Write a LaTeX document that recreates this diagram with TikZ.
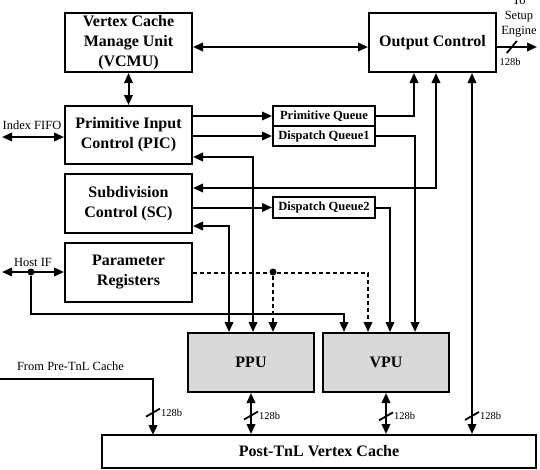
\documentclass[tikz,border=0pt]{standalone}
\usepackage{fontspec}
\setmainfont{Liberation Serif}
\usetikzlibrary{arrows.meta}
\definecolor{unitgray}{RGB}{217,217,217}
\tikzset{
  box/.style={draw, line width=2pt, font=\bfseries\fontsize{16}{20}\selectfont, align=center, inner sep=0pt},
  queue/.style={draw, line width=2pt, font=\bfseries\fontsize{12.5}{14}\selectfont, minimum width=102pt, minimum height=20pt, inner sep=0pt},
  unit/.style={box, fill=unitgray, minimum width=126pt, minimum height=59pt},
  lbl/.style={font=\fontsize{12.5}{15}\selectfont, inner sep=0pt, align=center},
  bw/.style={font=\fontsize{10.5}{12}\selectfont, inner sep=0pt},
  arr/.style={line width=2pt, -{Triangle[length=10pt,width=8.5pt]}},
  dbl/.style={line width=2pt, {Triangle[length=10pt,width=8.5pt]}-{Triangle[length=10pt,width=8.5pt]}},
  dsh/.style={arr, dash pattern=on 4pt off 3pt},
  slashmark/.style={line width=1.8pt},
  dot/.style={circle, fill, inner sep=0pt, minimum size=7pt}
}
\begin{document}
\begin{tikzpicture}[x=1pt,y=-1pt]
\useasboundingbox (0,0) rectangle (540,469);
% main blocks
\node[box, minimum width=127pt, minimum height=59pt] (vcmu) at (128.5,42.5) {Vertex Cache\\Manage Unit\\(VCMU)};
\node[box, minimum width=127pt, minimum height=58pt] (pic) at (128.5,135) {Primitive Input\\Control (PIC)};
\node[box, minimum width=127pt, minimum height=59pt] (sc) at (128.5,203.5) {Subdivision\\Control (SC)};
\node[box, minimum width=127pt, minimum height=59pt] (par) at (128.5,272.5) {Parameter\\Registers};
\node[box, minimum width=127pt, minimum height=59pt] (oc) at (432.5,42.5) {Output Control};
\node[queue] (pq) at (324,116) {Primitive Queue};
\node[queue] (dq1) at (324,136) {Dispatch Queue1};
\node[queue, minimum height=21pt] (dq2) at (324,207.5) {Dispatch Queue2};
\node[unit] (ppu) at (251,362.5) {PPU};
\node[unit] (vpu) at (386,362.5) {VPU};
\node[box, minimum width=434pt, minimum height=33pt] (post) at (319,451.5) {Post-TnL Vertex Cache};

% helper coordinates
\coordinate (ififo) at (2,137);
\coordinate (hif) at (2,272);
\coordinate (pre) at (0,379);
\coordinate (setup) at (537,47);
\node[dot] (hdot) at (31,272) {};
\coordinate (hturn) at (31,314);
\node[dot] (pdot) at (273,272) {};
\coordinate (ocA) at ([xshift=-18.5pt]oc.south);
\coordinate (ocB) at ([xshift=3.5pt]oc.south);
\coordinate (ocC) at ([xshift=39.5pt]oc.south);
\coordinate (vA) at ([xshift=29pt]vpu.north);
\coordinate (vB) at ([xshift=4pt]vpu.north);
\coordinate (vC) at ([xshift=-18pt]vpu.north);
\coordinate (vD) at ([xshift=-42pt]vpu.north);
\coordinate (pA) at ([xshift=2pt]ppu.north);
\coordinate (pB) at ([xshift=-22pt]ppu.north);
\coordinate (preIn) at (153,435);

% connectors
\draw[dbl] (vcmu.south) -- (pic.north);
\draw[dbl] ([yshift=-4.5pt]vcmu.east) -- ([yshift=-4.5pt]oc.west);
\draw[dbl] (ififo) -- (ififo -| pic.west);
\node[lbl] at (32,125) {Index FIFO};
\draw[arr] (pic.east |- pq.west) -- (pq.west);
\draw[arr] (pic.east |- dq1.west) -- (dq1.west);
\draw[arr] (pq.east) -| (ocA);
\draw[dbl] ([yshift=15.5pt]sc.east) -| (ocB);
\draw[dbl] (ocC) -- coordinate[pos=0.95] (s5) (ocC |- post.north);
\draw[arr] (dq1.east) -| (vA);
\draw[arr] (sc.east |- dq2.west) -- (dq2.west);
\draw[arr] (dq2.east) -| (vB);
\draw[dbl] ([yshift=-22pt]pic.east) -| (pA);
\draw[dbl] ([yshift=-22.5pt]sc.east) -| (pB);
\draw[dsh] (par.east) -| (vC);
\draw[dsh] (pdot) -- (pdot |- ppu.north);
\draw[dbl] (hif) -- (hif -| par.west);
\node[lbl] at (33,262) {Host IF};
\draw[arr] (hdot) -- (hturn) -| (vD);
\draw[arr] (pre) -| coordinate[pos=0.8] (s1) (preIn);
\node[lbl] at (70.5,366) {From Pre-TnL Cache};
\draw[dbl] (ppu.south) -- coordinate[pos=0.55] (s2) (ppu.south |- post.north);
\draw[dbl] (vpu.south) -- coordinate[pos=0.57] (s3) (vpu.south |- post.north);
\draw[arr] ([yshift=-4.5pt]oc.east) -- coordinate[pos=0.37] (s4) (setup);
\node[lbl] at (519,17) {To\\Setup\\Engine};

% bus-width marks
\foreach \s in {s1,s2,s3,s5}{
  \draw[slashmark] (\s) ++(-7,4) -- ++(14,-8);
  \node[bw, anchor=west] at ([xshift=8pt]\s) {128b};
}
\draw[slashmark] (s4) ++(-5,6) -- ++(10,-12);
\node[bw] at (510,62) {128b};
\end{tikzpicture}
\end{document}
